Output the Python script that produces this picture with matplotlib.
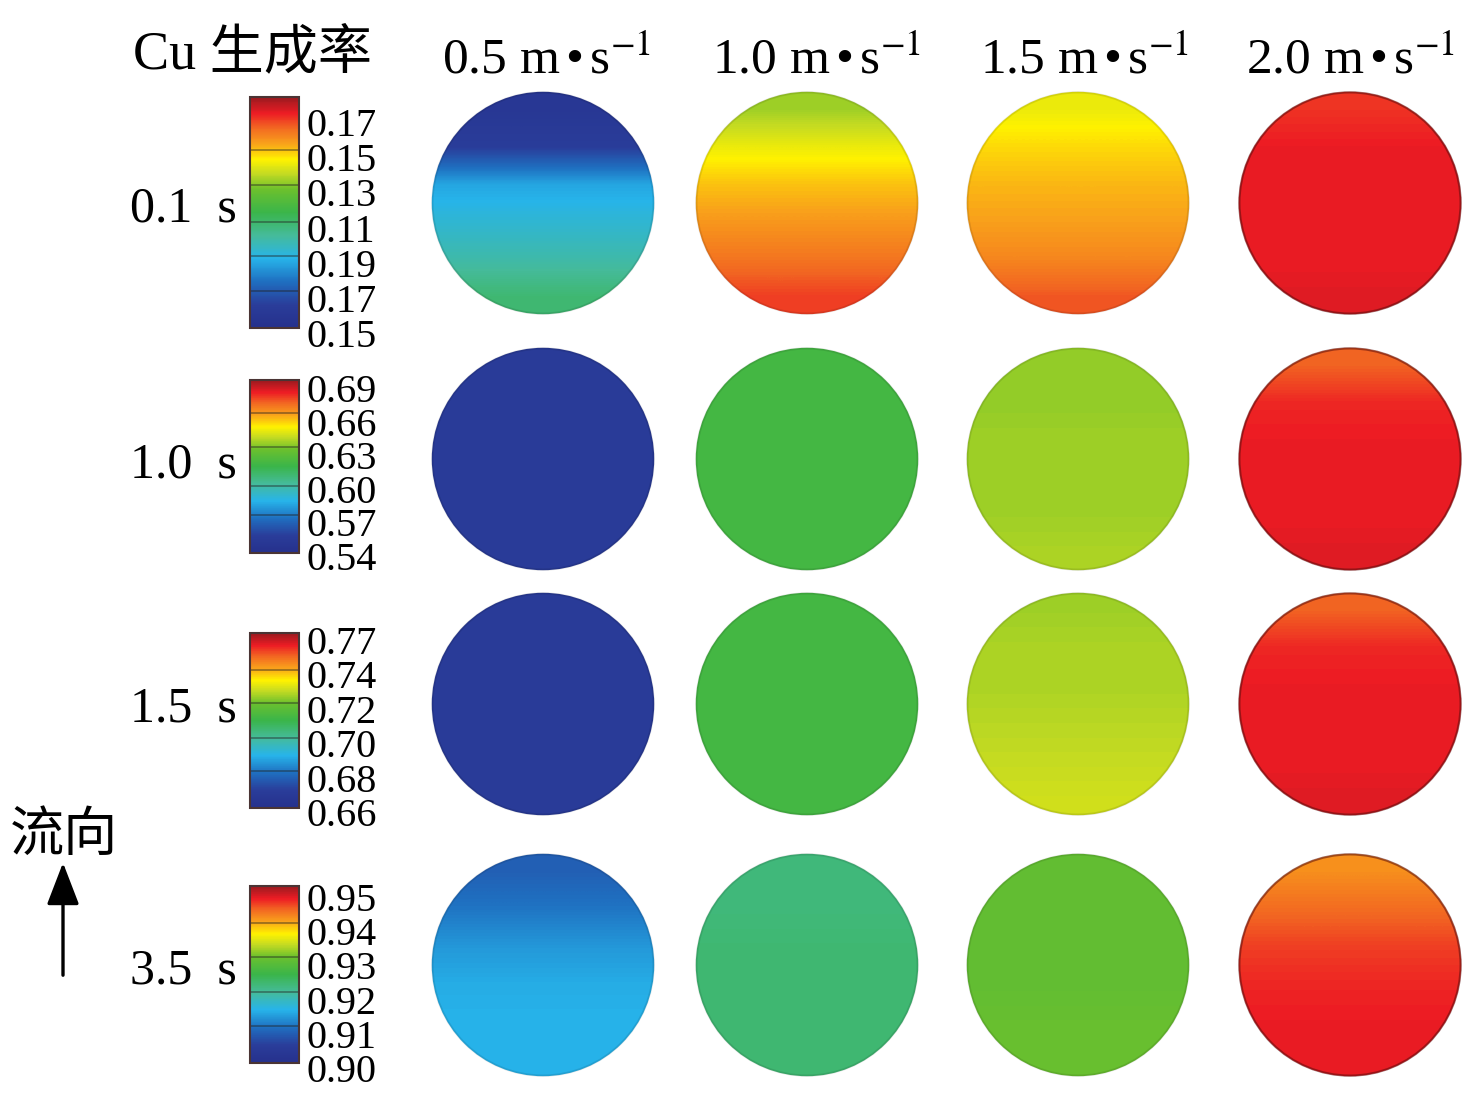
import numpy as np
import matplotlib
matplotlib.use("Agg")
import matplotlib.pyplot as plt
from matplotlib.colors import LinearSegmentedColormap, Normalize
from matplotlib.cm import ScalarMappable
from matplotlib.patches import Circle, FancyArrowPatch

plt.rcParams['font.family'] = ['Liberation Serif', 'Noto Sans CJK SC', 'DejaVu Sans']
plt.rcParams['mathtext.fontset'] = 'stix'

# ---- data ----
speeds = ["0.5", "1.0", "1.5", "2.0"]
times = ["0.1", "1.0", "1.5", "3.5"]

ticks_01 = ["0.17", "0.15", "0.13", "0.11", "0.19", "0.17", "0.15"]
ticks_10 = ["0.69", "0.66", "0.63", "0.60", "0.57", "0.54"]
ticks_15 = ["0.77", "0.74", "0.72", "0.70", "0.68", "0.66"]
ticks_35 = ["0.95", "0.94", "0.93", "0.92", "0.91", "0.90"]

# colour level (0 = lowest, 1 = highest) read from top to bottom of each circle
prof_01 = [[0.06, 0.10, 0.28, 0.33, 0.38, 0.45],
           [0.64, 0.71, 0.77, 0.81, 0.85, 0.90],
           [0.71, 0.75, 0.78, 0.80, 0.83, 0.88],
           [0.91, 0.93, 0.93, 0.93, 0.93, 0.94]]
prof_10 = [[0.09, 0.09, 0.09, 0.09, 0.09, 0.09],
           [0.52, 0.52, 0.52, 0.52, 0.52, 0.52],
           [0.63, 0.63, 0.64, 0.64, 0.64, 0.65],
           [0.87, 0.92, 0.93, 0.93, 0.93, 0.94]]
prof_15 = [[0.09, 0.09, 0.09, 0.09, 0.09, 0.09],
           [0.52, 0.52, 0.52, 0.52, 0.52, 0.52],
           [0.64, 0.65, 0.65, 0.66, 0.67, 0.68],
           [0.87, 0.92, 0.93, 0.93, 0.93, 0.94]]
prof_35 = [[0.17, 0.21, 0.26, 0.29, 0.30, 0.30],
           [0.44, 0.44, 0.45, 0.45, 0.45, 0.45],
           [0.58, 0.58, 0.58, 0.58, 0.59, 0.59],
           [0.82, 0.86, 0.90, 0.92, 0.93, 0.93]]

rows = [(times[0], ticks_01, prof_01), (times[1], ticks_10, prof_10),
        (times[2], ticks_15, prof_15), (times[3], ticks_35, prof_35)]

cmap_levels = [0.00, 0.10, 0.20, 0.30, 0.40, 0.50, 0.60, 0.67, 0.73, 0.80, 0.87, 0.93, 1.00]
cmap_colors = ["#26308c", "#2a3d9a", "#1f6fc0", "#27b4ea", "#45bb9a", "#3ab54a", "#6cc02d",
               "#c5db22", "#fff200", "#f9a11b", "#f26522", "#ed1c24", "#9a1a1f"]
cmap = LinearSegmentedColormap.from_list("fluent", list(zip(cmap_levels, cmap_colors)))

# ---- layout (pixels) ----
W, H = 1476, 1102
col_x = [543, 807, 1078, 1350]
row_y = [203, 459, 704, 965]
radius = 114
bar_x, bar_w = 250, 49
bar_span = [(97, 328), (380, 553), (633, 808), (886, 1063)]
lab_span = [(122, 333), (388, 556), (640, 812), (897, 1068)]
bar_lines = [[0.77, 0.62, 0.46, 0.31, 0.16], [0.81, 0.61, 0.39, 0.22],
             [0.79, 0.60, 0.40, 0.21], [0.79, 0.60, 0.40, 0.21]]
header_x = [442, 712, 980, 1246]


def px(x0, y0, w, h):
    return [x0 / W, 1 - (y0 + h) / H, w / W, h / H]


fig = plt.figure(figsize=(W / 100, H / 100), dpi=100)

for r, (t, labels, profs) in enumerate(rows):
    # circles
    for c, prof in enumerate(profs):
        ax = fig.add_axes(px(col_x[c] - radius, row_y[r] - radius, 2 * radius, 2 * radius))
        arr = np.repeat(np.array(prof)[:, None], 2, axis=1)
        im = ax.imshow(arr, cmap=cmap, vmin=0, vmax=1, extent=[-1, 1, -1, 1],
                       interpolation='bilinear', aspect='auto')
        im.set_clip_path(Circle((0, 0), 0.995, transform=ax.transData))
        rim = Circle((0, 0), 0.99, fill=False, lw=1.6,
                     ec=(0.35, 0.05, 0.05, 0.55) if c == 3 else (0, 0, 0, 0.10))
        ax.add_patch(rim)
        ax.set_xlim(-1.02, 1.02)
        ax.set_ylim(-1.02, 1.02)
        ax.axis('off')

    # colour bar
    top, bot = bar_span[r]
    cax = fig.add_axes(px(bar_x, top, bar_w, bot - top))
    cb = fig.colorbar(ScalarMappable(norm=Normalize(0, 1), cmap=cmap), cax=cax)
    cb.set_ticks([])
    cb.outline.set_edgecolor('#4a3434')
    cb.outline.set_linewidth(1.5)
    for lv in bar_lines[r]:
        cax.axhline(lv, color='#222222', lw=1.3, alpha=0.45)
    ly = np.linspace(lab_span[r][0], lab_span[r][1], len(labels))
    for lab, y in zip(labels, ly):
        fig.text(306 / W, 1 - y / H, lab, fontsize=29, ha='left', va='center_baseline')

    # row label
    fig.text(130 / W, 1 - (row_y[r] + 18) / H, t + "  s", fontsize=36,
             ha='left', va='baseline')

# column headers
for s, x in zip(speeds, header_x):
    fig.text(x / W, 1 - 74 / H, s + r" m$\,$•$\,$s$^{-1}$", fontsize=37,
             ha='left', va='baseline')

fig.text(133 / W, 1 - 68 / H, "Cu 生成率", fontsize=39, ha='left', va='baseline')

# flow direction
fig.text(10 / W, 1 - 835 / H, "流向", fontsize=39, ha='left', va='center',
         family=['Noto Sans CJK SC'])
fig.add_artist(FancyArrowPatch(
    (63 / W, 1 - 978 / H), (63 / W, 1 - 860 / H), transform=fig.transFigure,
    arrowstyle='-|>,head_length=26,head_width=10', mutation_scale=1,
    lw=2.4, color='black'))

fig.savefig("out.png", dpi=100)
